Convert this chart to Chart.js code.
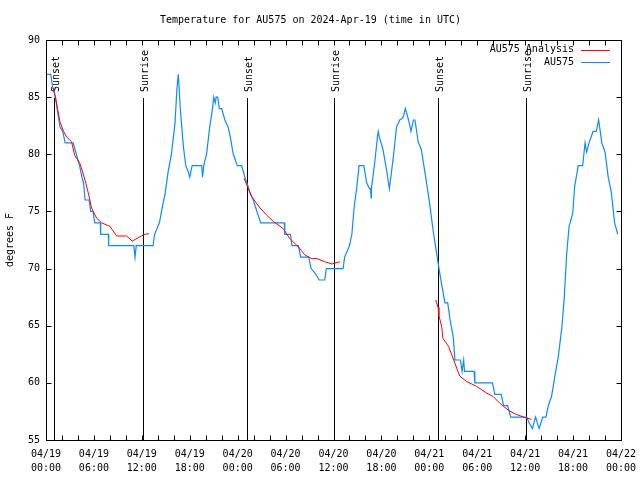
<!DOCTYPE html>
<html>
<head>
<meta charset="utf-8">
<script src="https://cdn.jsdelivr.net/npm/chart.js@4/dist/chart.umd.min.js"></script>
<style>
  html, body { margin: 0; padding: 0; background: #fff; }
  canvas { display: block; }
</style>
</head>
<body>
<canvas id="tempChart" width="640" height="480"></canvas>
<script>
// Hours since 04/19 00:00 UTC and temperature (deg F) for the station
const obsHours = [
  0, 0.6, 0.8, 1.0, 1.2, 1.5, 1.75, 2.1, 2.4, 3.4, 3.6, 3.8, 4.2, 4.5, 4.7, 4.9, 5.4, 5.6, 5.9, 6.1,
  6.8, 6.85, 7.8, 7.85, 11.0, 11.15, 11.3, 13.4, 13.6, 13.9, 14.2, 14.6, 14.9, 15.3, 15.7, 16.15, 16.4, 16.57, 16.8, 17.0,
  17.2, 17.5, 17.8, 18.0, 18.3, 19.5, 19.6, 19.75, 20.1, 20.5, 20.85, 21.0, 21.2, 21.3, 21.5, 21.7, 22.0, 22.4, 22.8, 23.0,
  23.45, 23.95, 24.5, 24.9, 25.3, 25.5, 25.96, 26.4, 26.9, 29.85, 29.9, 30.6, 30.8, 31.6, 31.9, 32.9, 33.2, 33.8, 34.2, 34.9,
  35.1, 37.2, 37.4, 37.7, 38.0, 38.3, 38.6, 38.9, 39.2, 39.8, 40.15, 40.5, 40.65, 40.7, 40.75, 41.2, 41.5, 41.6, 41.75, 42.2,
  42.65, 43.0, 43.5, 43.9, 44.3, 44.7, 45.0, 45.4, 45.7, 46.0, 46.2, 46.6, 47.0, 47.5, 48.0, 48.5, 48.9, 49.3, 49.6, 49.96,
  50.3, 50.6, 51.0, 51.2, 51.9, 52.1, 52.3, 52.4, 53.6, 53.7, 55.9, 56.2, 57.0, 57.3, 57.8, 58.2, 60.2, 60.5, 60.9, 61.3,
  61.75, 62.2, 62.6, 62.9, 63.3, 63.7, 64.15, 64.6, 64.9, 65.2, 65.5, 65.95, 66.2, 66.65, 67.2, 67.5, 67.7, 68.0, 68.5, 68.9,
  69.2, 69.6, 70.0, 70.4, 70.8, 71.2, 71.6
];
const obsTemps = [
  87, 87, 86, 85.5, 85, 83.5, 82.4, 82, 81, 81, 80.5, 80, 79, 78, 77.5, 76, 76, 75, 75, 74,
  74, 73, 73, 72, 72, 71, 72, 72, 73, 73.5, 74, 75.5, 76.5, 78.5, 80, 82.7, 85.8, 87, 84.2, 82.4,
  80.7, 79, 78.5, 78, 79, 79, 78, 79, 80, 82.4, 84, 85, 84.5, 85, 85, 84, 84, 83, 82.4, 81.8,
  80, 79, 79, 78, 77.2, 76.7, 76, 75, 74, 74, 73, 73, 72, 72, 71, 71, 70, 69.5, 69, 69,
  70, 70, 71, 71.5, 72, 73, 75.5, 77, 79, 79, 77.5, 77, 77, 76.2, 77, 79.5, 81.5, 82, 81.5, 80.4,
  78.6, 77, 79.8, 82.4, 83, 83.2, 84, 83, 82, 83, 83, 81.1, 80.4, 78.2, 75.9, 73.2, 71.4, 69.6, 68.4, 67,
  67, 65.5, 64, 62, 62, 61, 62, 61, 61, 60, 60, 59, 59, 58, 58, 57, 57, 56.5, 56, 57,
  56, 57, 57, 58, 58.8, 60.5, 62.3, 64.9, 67.5, 71.3, 73.7, 74.8, 77.2, 79, 79, 81, 80.2, 81, 82, 82,
  83, 81, 80.2, 78, 76.6, 74, 73
];

// Analysis series (null separates the three evening runs)
const analysisHours = [
  0.9, 1.3, 1.75, 2.2, 2.6, 3.2, 3.6, 4.25, 4.9, 5.3, 5.7, 6.35, 6.97, 8.0, 8.85, 10.1, 10.8, 11.8, 12.4, 12.9,
  18,
  24.8, 25.75, 26.8, 27.6, 28.5, 29.7, 30.55, 31.6, 32.4, 33.3, 33.8, 34.9, 35.8, 36.8,
  42,
  48.8, 49.1, 49.2, 49.55, 49.7, 50.4, 51.0, 51.8, 52.7, 53.9, 55.2, 56.0, 56.85, 57.9, 58.7, 59.8, 60.8
];
const analysisTemps = [
  85.8, 84.5, 82.85, 82, 81.5, 81.1, 79.9, 79.2, 77.7, 76.6, 75.3, 74.4, 74, 73.7, 72.85, 72.85, 72.4, 72.8, 73, 73.05,
  null,
  77.9, 76.3, 75.3, 74.7, 74.1, 73.5, 72.6, 71.9, 71.2, 70.85, 70.9, 70.6, 70.4, 70.6,
  null,
  67.25, 66.6, 65.9, 64.9, 63.9, 63.2, 62.1, 60.6, 60.1, 59.7, 59.1, 58.8, 58.2, 57.6, 57.3, 57.0, 56.8
];

// Sunset / sunrise markers
const sunHours = [1.04, 12.19, 25.13, 36.1, 49.13, 60.15];
const sunLabels = ["Sunset", "Sunrise", "Sunset", "Sunrise", "Sunset", "Sunrise"];

// Axis tick labels (every 6 hours)
const tickDays = ["04/19", "04/19", "04/19", "04/19", "04/20", "04/20", "04/20", "04/20", "04/21", "04/21", "04/21", "04/21", "04/22"];
const tickTimes = ["00:00", "06:00", "12:00", "18:00", "00:00", "06:00", "12:00", "18:00", "00:00", "06:00", "12:00", "18:00", "00:00"];

const FONT = "'DejaVu Sans Mono', 'Liberation Mono', monospace";

function toPoints(xs, ys) {
  return xs.map((x, i) => ({ x: x, y: ys[i] }));
}

// gnuplot-like frame, inward ticks, sun markers and legend
const gnuplotDecor = {
  id: "gnuplotDecor",
  beforeDatasetsDraw(chart) {
    const ctx = chart.ctx;
    const area = chart.chartArea;
    const xs = chart.scales.x;
    ctx.save();
    ctx.strokeStyle = "#000";
    ctx.lineWidth = 1;
    ctx.fillStyle = "#000";
    ctx.font = "10px " + FONT;
    sunHours.forEach((h, i) => {
      const px = Math.round(xs.getPixelForValue(h)) + 0.5;
      ctx.beginPath();
      ctx.moveTo(px, 98);
      ctx.lineTo(px, area.bottom);
      ctx.stroke();
      ctx.save();
      ctx.translate(px + 1.5, 92);
      ctx.rotate(-Math.PI / 2);
      ctx.textAlign = "left";
      ctx.textBaseline = "middle";
      ctx.fillText(sunLabels[i], 0, 0);
      ctx.restore();
    });
    ctx.restore();
  },
  afterDraw(chart) {
    const ctx = chart.ctx;
    const area = chart.chartArea;
    const xs = chart.scales.x;
    const ys = chart.scales.y;
    ctx.save();
    ctx.strokeStyle = "#000";
    ctx.lineWidth = 1;
    const L = Math.round(area.left) + 0.5, R = Math.round(area.right) + 0.5;
    const T = Math.round(area.top) + 0.5, B = Math.round(area.bottom) + 0.5;
    ctx.beginPath();
    for (let h = 0; h <= 72; h += 2) {
      const px = Math.round(xs.getPixelForValue(h)) + 0.5;
      ctx.moveTo(px, B); ctx.lineTo(px, B - 5);
      ctx.moveTo(px, T); ctx.lineTo(px, T + 5);
    }
    for (let v = 55; v <= 90; v += 5) {
      const py = Math.round(ys.getPixelForValue(v)) + 0.5;
      ctx.moveTo(L, py); ctx.lineTo(L + 5, py);
      ctx.moveTo(R, py); ctx.lineTo(R - 5, py);
    }
    ctx.stroke();
    ctx.strokeRect(L, T, R - L, B - T);

    // legend, top right inside the frame
    ctx.font = "10px " + FONT;
    ctx.textAlign = "right";
    ctx.textBaseline = "middle";
    ctx.fillStyle = "#000";
    chart.data.datasets.forEach((ds, i) => {
      const y = 49.5 + i * 12.5;
      ctx.fillText(ds.label, 574, y);
      ctx.strokeStyle = ds.borderColor;
      ctx.beginPath();
      ctx.moveTo(581, Math.round(y) + 0.5);
      ctx.lineTo(610, Math.round(y) + 0.5);
      ctx.stroke();
    });
    ctx.restore();
  }
};

new Chart(document.getElementById("tempChart"), {
  type: "line",
  data: {
    datasets: [
      {
        label: "AU575 Analysis",
        data: toPoints(analysisHours, analysisTemps),
        borderColor: "#ff0000",
        borderWidth: 1,
        pointRadius: 0,
        tension: 0,
        spanGaps: false
      },
      {
        label: "AU575",
        data: toPoints(obsHours, obsTemps),
        borderColor: "#0c8aff",
        borderWidth: 1.2,
        pointRadius: 0,
        tension: 0
      }
    ]
  },
  options: {
    responsive: false,
    animation: false,
    devicePixelRatio: 1,
    layout: { padding: { left: 0, right: 19, top: 0, bottom: 0 } },
    plugins: {
      legend: { display: false },
      tooltip: { enabled: false },
      title: {
        display: true,
        text: "Temperature for AU575 on 2024-Apr-19 (time in UTC)",
        color: "#000",
        font: { family: FONT, size: 10, weight: "normal" },
        padding: { top: 14, bottom: 14 }
      }
    },
    scales: {
      x: {
        type: "linear",
        min: 0,
        max: 72,
        grid: { display: false, drawTicks: false },
        border: { display: false },
        ticks: {
          stepSize: 6,
          autoSkip: false,
          maxRotation: 0,
          padding: 8,
          color: "#000",
          font: { family: FONT, size: 10, lineHeight: 1.35 },
          callback: (v) => {
            const i = Math.round(v / 6);
            return [tickDays[i], tickTimes[i]];
          }
        },
        afterFit: (s) => {
          s.height = 40;
          s.paddingLeft = 0;
          s.paddingRight = 0;
        }
      },
      y: {
        min: 55,
        max: 90,
        grid: { display: false, drawTicks: false },
        border: { display: false },
        ticks: {
          stepSize: 5,
          padding: 6,
          color: "#000",
          font: { family: FONT, size: 10 }
        },
        title: {
          display: true,
          text: "degrees F",
          color: "#000",
          font: { family: FONT, size: 10 },
          padding: { top: 4, bottom: 0 }
        },
        afterFit: (s) => { s.width = 46; }
      }
    }
  },
  plugins: [gnuplotDecor]
});
</script>
</body>
</html>
